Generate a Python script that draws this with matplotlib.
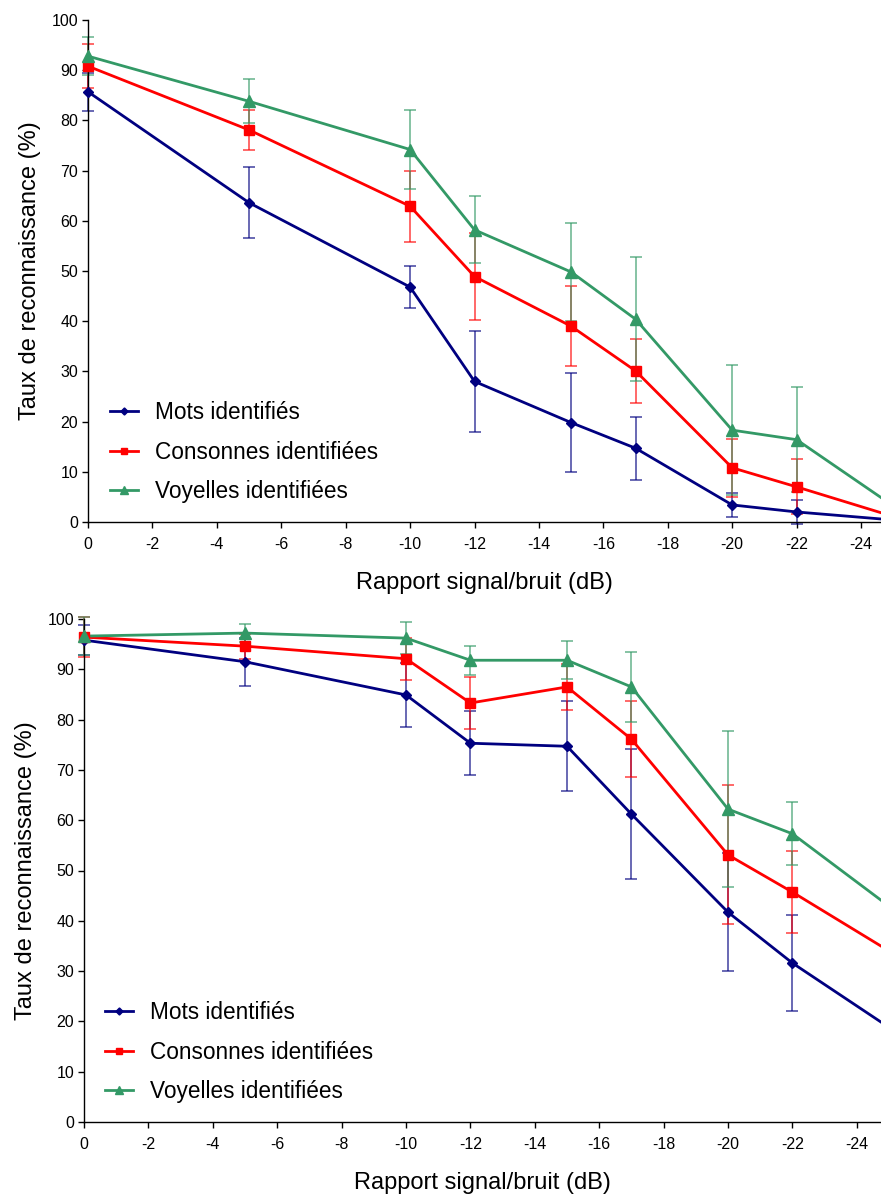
import matplotlib
matplotlib.use("Agg")
import matplotlib.pyplot as plt
import numpy as np

plt.rcParams['font.family'] = ['Liberation Sans', 'DejaVu Sans']
plt.rcParams['axes.unicode_minus'] = False

snr = [0, -5, -10, -12, -15, -17, -20, -22, -25]
xticks = list(range(0, -25, -2))
yticks = list(range(0, 101, 10))

labels = ["Mots identifiés", "Consonnes identifiées", "Voyelles identifiées"]

# Top panel
top_mots = [85.7, 63.6, 46.8, 28.0, 19.8, 14.7, 3.4, 2.0, 0.4]
top_mots_err = [3.8, 7.1, 4.2, 10.0, 9.8, 6.3, 2.4, 2.4, 0]
top_cons = [90.8, 78.1, 62.9, 48.9, 39.0, 30.1, 10.8, 7.0, 1.1]
top_cons_err = [4.4, 3.9, 7.1, 8.7, 8.0, 6.3, 5.8, 5.5, 0]
top_voy = [92.8, 83.8, 74.2, 58.2, 49.8, 40.4, 18.3, 16.4, 3.2]
top_voy_err = [3.8, 4.4, 7.9, 6.7, 9.7, 12.4, 13.0, 10.5, 0]

# Bottom panel
bot_mots = [95.8, 91.5, 84.9, 75.3, 74.7, 61.2, 41.7, 31.6, 18.8]
bot_mots_err = [3.0, 4.8, 6.4, 6.4, 8.9, 12.9, 11.7, 9.5, 0]
bot_cons = [96.4, 94.6, 92.1, 83.3, 86.5, 76.1, 53.1, 45.7, 34.0]
bot_cons_err = [4.0, 2.5, 4.2, 5.1, 4.6, 7.6, 13.8, 8.2, 0]
bot_voy = [96.6, 97.2, 96.2, 91.8, 91.8, 86.5, 62.2, 57.3, 42.9]
bot_voy_err = [3.8, 1.8, 3.2, 2.9, 3.8, 6.9, 15.5, 6.3, 0]

colors = ['#000080', '#FF0000', '#339966']
markers = ['D', 's', '^']
msizes = [5.5, 7.3, 8.0]

W, H = 881, 1196
fig = plt.figure(figsize=(W / 100, H / 100), dpi=100)

def make_axes(left_px, top_px, bottom_px, xmax):
    ax = fig.add_axes([left_px / W, 1 - bottom_px / H, 1 - left_px / W, (bottom_px - top_px) / H])
    ax.set_xlim(0, xmax)
    ax.set_ylim(0, 100)
    return ax

def draw(ax, series, errs, xmax, leg_anchor):
    handles = []
    for vals, err, c, m, ms, lab in zip(series, errs, colors, markers, msizes, labels):
        ax.errorbar(snr, vals, yerr=err, fmt='none', ecolor=c, elinewidth=1.1,
                    capsize=4.5, capthick=1.1, alpha=0.75, clip_on=False, zorder=2)
        ax.plot(snr, vals, color=c, lw=2.0, clip_on=False, zorder=3)
        xs = [x for x in snr if x >= xmax]
        ys = [v for x, v in zip(snr, vals) if x >= xmax]
        ax.plot(xs, ys, linestyle='none', marker=m, ms=ms, color=c, clip_on=False, zorder=4)
        h, = ax.plot([], [], color=c, lw=2.0, marker=m, ms=ms * 0.65, label=lab)
        handles.append(h)
    for s in ['top', 'right']:
        ax.spines[s].set_visible(False)
    for s in ['left', 'bottom']:
        ax.spines[s].set_linewidth(1.0)
    ax.set_xticks(xticks)
    ax.set_xticklabels([str(t) for t in xticks])
    ax.set_yticks(yticks)
    ax.tick_params(direction='out', length=4, width=1, labelsize=11.5, pad=3)
    ax.tick_params(axis='x', pad=7)
    ax.set_xlabel("Rapport signal/bruit (dB)", fontsize=17, labelpad=14.5)
    ax.set_ylabel("Taux de reconnaissance (%)", fontsize=17, labelpad=8)
    ax.legend(handles=handles, loc='lower left', bbox_to_anchor=leg_anchor, frameon=False,
              fontsize=16.3, handlelength=1.25, handletextpad=0.75, labelspacing=0.72,
              borderaxespad=0)

ax1 = make_axes(88, 20, 522, -24.62)
draw(ax1, [top_mots, top_cons, top_voy], [top_mots_err, top_cons_err, top_voy_err], -24.62, (0.016, 0.02))

ax2 = make_axes(84, 619, 1122, -24.75)
draw(ax2, [bot_mots, bot_cons, bot_voy], [bot_mots_err, bot_cons_err, bot_voy_err], -24.75, (0.015, 0.02))

fig.savefig("out.png", dpi=100)
